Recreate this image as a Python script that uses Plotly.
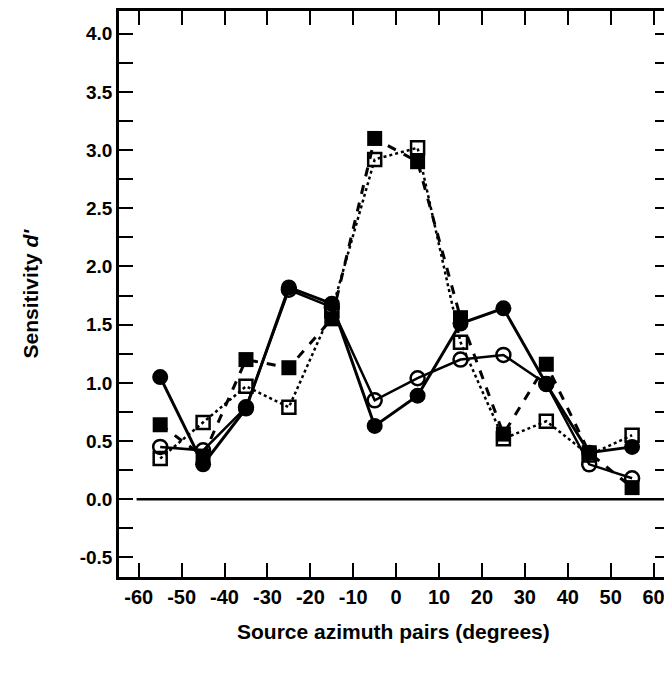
import plotly.graph_objects as go

azimuth = [-55, -45, -35, -25, -15, -5, 5, 15, 25, 35, 45, 55]
filled_circles = [1.05, 0.30, 0.78, 1.82, 1.68, 0.63, 0.89, 1.51, 1.64, 0.99, 0.40, 0.45]
open_circles = [0.45, 0.42, 0.79, 1.80, 1.65, 0.85, 1.04, 1.20, 1.24, 0.99, 0.30, 0.18]
filled_squares = [0.64, 0.37, 1.20, 1.13, 1.55, 3.10, 2.90, 1.56, 0.56, 1.16, 0.40, 0.10]
open_squares = [0.35, 0.66, 0.97, 0.79, 1.62, 2.92, 3.02, 1.35, 0.52, 0.67, 0.38, 0.55]

x_ticks = list(range(-60, 61, 10))
y_ticks = [-0.5, 0.0, 0.5, 1.0, 1.5, 2.0, 2.5, 3.0, 3.5, 4.0]

FONT = "Liberation Sans, Arial, sans-serif"

fig = go.Figure()
fig.add_trace(go.Scatter(x=azimuth, y=open_squares, mode="lines+markers",
    line=dict(color="black", width=2.5, dash="dot"),
    marker=dict(symbol="square-open", size=13, color="black", line=dict(width=2.5, color="black"))))
fig.add_trace(go.Scatter(x=azimuth, y=filled_squares, mode="lines+markers",
    line=dict(color="black", width=3, dash="dash"),
    marker=dict(symbol="square", size=15, color="black")))
fig.add_trace(go.Scatter(x=azimuth, y=open_circles, mode="lines+markers",
    line=dict(color="black", width=2.5),
    marker=dict(symbol="circle-open", size=14, color="black", line=dict(width=2.5, color="black"))))
fig.add_trace(go.Scatter(x=azimuth, y=filled_circles, mode="lines+markers",
    line=dict(color="black", width=3),
    marker=dict(symbol="circle", size=16, color="black")))

fig.add_shape(type="line", xref="x", yref="y", x0=-60.5, x1=63.6, y0=0, y1=0,
              line=dict(color="black", width=2.5), layer="below")

# page body adds an 8px offset, so the figure is smaller with margins shifted accordingly
fig.update_layout(
    width=664, height=659,
    margin=dict(l=111, r=0, t=1, b=90),
    paper_bgcolor="white", plot_bgcolor="white",
    showlegend=False,
    font=dict(family=FONT, color="black"),
)
fig.update_xaxes(
    range=[-64.6, 63.6], tickvals=x_ticks, ticktext=[str(v) for v in x_ticks],
    ticks="inside", ticklen=14, tickwidth=2, tickcolor="black",
    showline=True, linewidth=2.5, linecolor="black", mirror="ticks",
    showgrid=False, zeroline=False,
    tickfont=dict(family=FONT, size=20, color="black", weight="bold"),
)
fig.update_yaxes(
    range=[-0.668, 4.195], tickvals=y_ticks, ticktext=[f"{v:.1f}" for v in y_ticks],
    ticks="inside", ticklen=14, tickwidth=2, tickcolor="black",
    minor=dict(tickvals=[v + 0.25 for v in y_ticks[:-1]], ticks="inside", ticklen=14,
               tickwidth=2, tickcolor="black", showgrid=False),
    showline=True, linewidth=2.5, linecolor="black", mirror="ticks",
    showgrid=False, zeroline=False,
    tickfont=dict(family=FONT, size=19, color="black", weight="bold"),
)

fig.add_annotation(text="Source azimuth pairs (degrees)", xref="paper", yref="paper",
                   x=(395 - 119) / 553, y=-(632 - 577) / 568, showarrow=False,
                   xanchor="center", yanchor="middle",
                   font=dict(family=FONT, size=21, color="black", weight="bold"))
fig.add_annotation(text="Sensitivity <i>d'</i>", xref="paper", yref="paper",
                   x=-(119 - 30) / 553, y=(577 - 292) / 568, showarrow=False, textangle=-90,
                   xanchor="center", yanchor="middle",
                   font=dict(family=FONT, size=21, color="black", weight="bold"))

fig.write_html("out.html")
